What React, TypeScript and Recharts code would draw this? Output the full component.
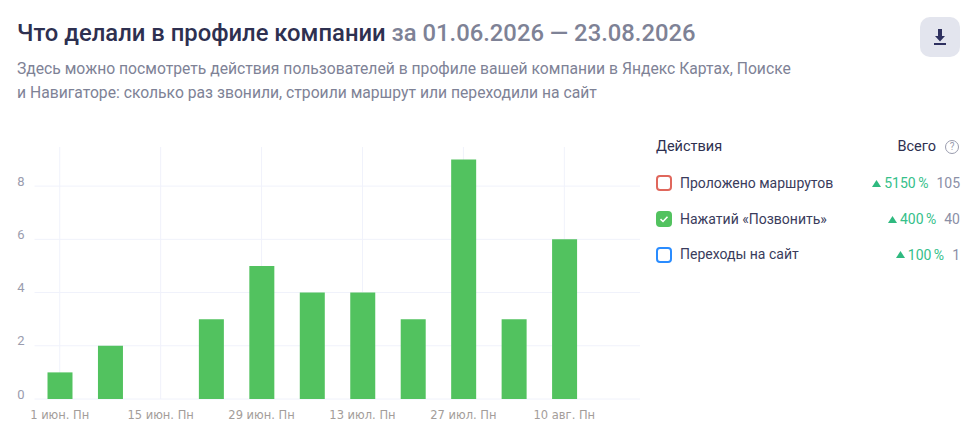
import React from 'react'
import { Bar, BarChart, CartesianGrid, XAxis, YAxis } from 'recharts'

const weeks = [
  '1 июн. Пн', '8 июн. Пн', '15 июн. Пн', '22 июн. Пн', '29 июн. Пн', '6 июл. Пн',
  '13 июл. Пн', '20 июл. Пн', '27 июл. Пн', '3 авг. Пн', '10 авг. Пн', '17 авг. Пн',
]
const calls = [1, 2, 0, 3, 5, 4, 4, 3, 9, 3, 6, 0]
const yTicks = [0, 2, 4, 6, 8]

const legendNames = ['Проложено маршрутов', 'Нажатий «Позвонить»', 'Переходы на сайт']
const legendColors = ['#e0675c', '#52c25f', '#2a8cff']
const legendChecked = [false, true, false]
const legendPercents = ['5150 %', '400 %', '100 %']
const legendTotals = ['105', '40', '1']

const chartData = weeks.map((week, i) => ({ week, calls: calls[i] }))

const FONT = 'Roboto, sans-serif'
const TICK_FONT = '"DejaVu Sans", sans-serif'
const GRID = '#f0f2fb'

const abs = (left: number, top: number, extra: React.CSSProperties = {}): React.CSSProperties => ({
  position: 'absolute',
  left,
  top,
  whiteSpace: 'nowrap',
  ...extra,
})

function LegendRow({ index }: { index: number }) {
  const color = legendColors[index]
  const checked = legendChecked[index]
  const top = [175, 211, 246.5][index]
  return (
    <>
      <div
        style={abs(656, top, {
          width: 16,
          height: 16,
          boxSizing: 'border-box',
          border: `2px solid ${color}`,
          borderRadius: 4,
          background: checked ? color : '#fff',
        })}
      >
        {checked && (
          <svg width="12" height="12" viewBox="0 0 12 12" style={{ display: 'block' }}>
            <path d="M2.5 6.2 L5 8.5 L9.5 3.8" fill="none" stroke="#fff" strokeWidth="1.6" />
          </svg>
        )}
      </div>
      <div style={abs(680, top - 2.5, { fontSize: 14, lineHeight: '20px', color: '#3a3c5c' })}>
        {legendNames[index]}
      </div>
      <div
        style={{
          position: 'absolute',
          right: 979 - 960,
          top: top - 2,
          display: 'flex',
          alignItems: 'center',
          fontSize: 14,
          lineHeight: '20px',
          whiteSpace: 'nowrap',
        }}
      >
        <svg width="9" height="7" viewBox="0 0 9 7" style={{ marginRight: 3 }}>
          <path d="M4.5 0 L9 7 L0 7 Z" fill="#2fb97f" />
        </svg>
        <span style={{ color: '#35c08a', marginRight: 8, wordSpacing: -1 }}>{legendPercents[index]}</span>
        <span style={{ color: '#8b8fa6' }}>{legendTotals[index]}</span>
      </div>
    </>
  )
}

export default function App() {
  return (
    <div
      style={{
        position: 'absolute',
        left: 0,
        top: 0,
        width: 979,
        height: 435,
        overflow: 'hidden',
        background: '#fff',
        fontFamily: FONT,
      }}
    >
      <div style={abs(17, 18, { fontSize: 23.8, lineHeight: '30px', fontWeight: 500, color: '#2e3050' })}>
        Что делали в профиле компании <span style={{ color: '#7e8296' }}>за 01.06.2026 — 23.08.2026</span>
      </div>
      <div style={abs(17, 57, { fontSize: 15.7, lineHeight: '23px', color: '#7e8296' })}>
        Здесь можно посмотреть действия пользователей в профиле вашей компании в Яндекс Картах, Поиске
      </div>
      <div style={abs(17, 81, { fontSize: 15.7, lineHeight: '23px', color: '#7e8296' })}>
        и Навигаторе: сколько раз звонили, строили маршрут или переходили на сайт
      </div>

      <div style={abs(920, 17, { width: 40, height: 40, borderRadius: 10, background: '#e3e5ee' })}>
        <svg width="40" height="40" viewBox="0 0 40 40" style={{ display: 'block' }}>
          <path d="M18 12 H22 V19 H25 L20 24.5 L15 19 H18 Z" fill="#2f3160" />
          <rect x="14" y="26" width="12" height="2" fill="#2f3160" />
        </svg>
      </div>

      <div style={{ position: 'absolute', left: 0, top: 0 }}>
        <BarChart
          width={660}
          height={435}
          data={chartData}
          margin={{ top: 147, right: 20, bottom: 0, left: 0 }}
        >
          <CartesianGrid stroke={GRID} strokeWidth={1} syncWithTicks />
          <XAxis
            dataKey="week"
            interval={1}
            axisLine={false}
            tickLine={false}
            height={36}
            tickMargin={6}
            tick={{ fontSize: 11.5, fontFamily: TICK_FONT, fill: '#a39d9a' }}
          />
          <YAxis
            width={34.5}
            type="number"
            domain={[0, 9.47]}
            ticks={yTicks}
            axisLine={false}
            tickLine={false}
            tickMargin={4}
            tick={{ fontSize: 13, fontFamily: FONT, fill: '#9a9cae', dy: -5 }}
          />
          <Bar dataKey="calls" fill="#52c25f" barSize={25} isAnimationActive={false} />
        </BarChart>
      </div>

      <div style={abs(656, 137, { fontSize: 14.5, lineHeight: '20px', color: '#2e3050' })}>
        Действия
      </div>
      <div
        style={{
          position: 'absolute',
          right: 979 - 936,
          top: 137,
          fontSize: 14.5,
          lineHeight: '20px',
          color: '#2e3050',
          whiteSpace: 'nowrap',
        }}
      >
        Всего
      </div>
      <div
        style={abs(945, 140, {
          width: 14,
          height: 14,
          boxSizing: 'border-box',
          border: '1.5px solid #9a9cae',
          borderRadius: '50%',
          fontSize: 10,
          lineHeight: '11px',
          textAlign: 'center',
          color: '#9a9cae',
        })}
      >
        ?
      </div>

      {legendNames.map((_, i) => (
        <LegendRow key={i} index={i} />
      ))}
    </div>
  )
}
